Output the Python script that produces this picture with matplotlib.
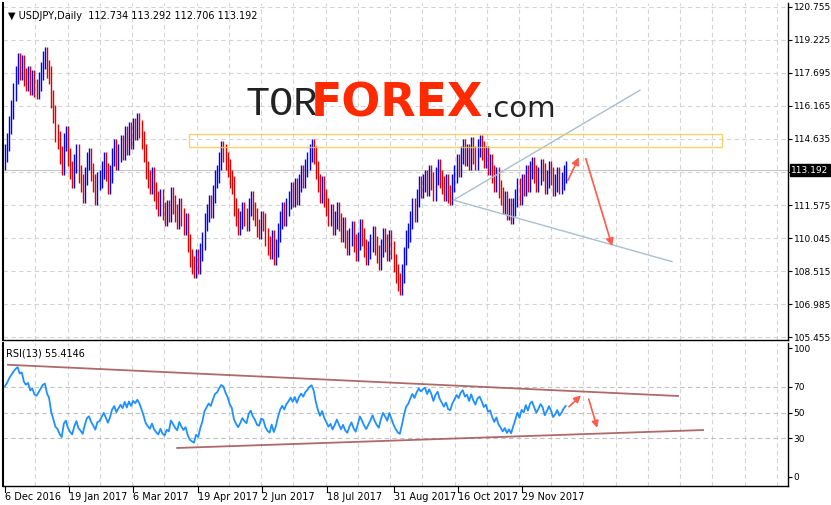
import numpy as np
import matplotlib
matplotlib.use("Agg")
import matplotlib.pyplot as plt

closes = [114.0,114.5,115.3,116.0,116.8,117.6,118.2,
117.8,118.1,117.5,117.3,117.6,117.1,117.4,117.0,116.9,117.3,117.8,118.3,118.5,117.9,117.6,
116.5,115.8,114.9,114.6,113.9,113.4,
114.5,114.8,113.8,113.2,112.8,113.5,114.0,113.0,112.6,112.1,112.9,113.6,113.8,113.1,112.6,112.0,112.7,112.8,
113.2,113.6,113.1,112.5,113.0,113.8,114.2,113.6,114.0,114.4,114.1,114.8,114.3,115.0,114.6,115.2,115.0,115.4,115.1,
114.6,114.0,113.2,112.8,112.5,112.9,112.2,111.8,111.5,111.9,111.3,111.0,
111.4,111.2,112.0,111.6,111.2,110.9,111.5,111.0,110.6,110.8,
109.8,109.1,108.8,
108.6,109.1,108.8,109.4,109.9,110.8,111.2,111.6,111.4,112.1,112.8,113.0,113.6,114.1,114.0,
113.6,113.3,112.8,112.5,111.5,111.0,110.6,110.9,
111.3,111.0,110.8,111.5,111.8,111.3,111.0,110.5,110.4,110.9,110.8,110.1,
109.7,109.5,110.0,109.2,109.6,110.3,
110.9,111.3,111.0,111.5,111.8,112.2,111.9,112.4,112.0,112.6,113.0,112.8,113.3,113.6,114.0,114.2,113.9,
113.2,112.6,112.1,112.5,111.9,111.5,111.0,111.2,110.6,110.9,111.3,110.8,110.3,110.6,110.0,109.7,110.1,110.4,109.8,109.4,109.9,110.5,110.1,
109.6,109.2,109.5,109.8,110.2,109.7,109.3,109.0,109.6,110.1,109.8,109.4,110.0,109.5,108.9,108.4,108.0,107.8,
108.4,109.2,110.0,110.3,110.9,111.5,111.2,111.9,112.5,112.3,
112.6,112.8,112.4,113.0,112.7,112.2,112.9,113.3,112.8,112.5,112.2,112.6,112.1,112.0,
112.6,113.0,113.5,113.3,113.9,114.2,113.8,114.0,113.6,114.3,113.9,113.6,114.2,114.4,114.1,113.7,
113.9,113.4,113.5,113.0,112.6,112.9,112.3,112.0,111.6,111.8,111.3,111.5,111.1,
111.5,111.9,112.4,112.0,112.6,112.4,113.0,112.6,113.2,113.4,
113.0,112.6,112.9,113.3,113.1,112.5,112.8,113.2,112.9,112.4,112.6,112.9,112.5,112.7,113.0,113.192]
first_open = 113.6
wick = 0.42
rsi_init_gain = 0.30
rsi_init_loss = 0.14

price_ticks = [120.755,119.225,117.695,116.165,114.635,113.105,111.575,110.045,108.515,106.985,105.455]
price_labels = ["120.755","119.225","117.695","116.165","114.635","","111.575","110.045","108.515","106.985","105.455"]
rsi_ticks = [100,70,50,30,0]
date_pos = [0,30.5,61,92,122.5,153.5,185,215.5,246]
date_labels = ["6 Dec 2016","19 Jan 2017","6 Mar 2017","19 Apr 2017","2 Jun 2017","18 Jul 2017","31 Aug 2017","16 Oct 2017","29 Nov 2017"]

zone = (87.6, 341.4, 114.26, 114.87)
tri_up = ([213.6, 302.4], [111.8, 116.9])
tri_dn = ([213.6, 317.6], [111.8, 108.95])
arr1 = ([267.5, 273.8], [112.6, 113.9])
arr2 = ([276.2, 289.5], [113.85, 109.55])
rsi_up = ([1.4, 320.5], [87.0, 62.8])
rsi_dn = ([82.0, 332.4], [22.5, 36.4])
rsi_arr1 = ([267.6, 275.2], [53.0, 64.7])
rsi_arr2 = ([277.6, 282.4], [62.4, 36.0])

c = np.array(closes)
o = np.concatenate([[first_open], c[:-1]])
hi = np.maximum(o, c) + wick
lo = np.minimum(o, c) - wick
idx = np.arange(len(c))
cols = np.where(c >= o, "#0000ff", "#e00000")

d = np.diff(np.concatenate([[first_open], c]))
g = np.where(d > 0, d, 0); l = np.where(d < 0, -d, 0)
n = 13
ag = np.zeros(len(d)); al = np.zeros(len(d))
pg, pl = rsi_init_gain, rsi_init_loss
for k in range(len(d)):
    pg = (pg*(n-1) + g[k]) / n
    pl = (pl*(n-1) + l[k]) / n
    ag[k], al[k] = pg, pl
rsi = 100 - 100/(1 + ag/np.maximum(al, 1e-9))

W, H = 831, 505
fig = plt.figure(figsize=(W/100, H/100), dpi=100)
def ax_px(x0, y0, x1, y1):
    return fig.add_axes([x0/W, 1-y1/H, (x1-x0)/W, (y1-y0)/H])

xl = ((3-5)/2.1, (788-5)/2.1)
ax = ax_px(3, 3, 788, 340)
ax.set_xlim(*xl)
ax.set_ylim(105.455-3/21.57, 120.755+4/21.57)
ax2 = ax_px(3, 343, 788, 486)
ax2.set_xlim(*xl)
ax2.set_ylim(-9*100/129, 100+5*100/129)

grid_x = np.arange(14.5, 372, 15.35)
for a in (ax, ax2):
    for x in grid_x:
        a.axvline(x, color="#d4d4d4", ls=(0, (4, 3)), lw=0.8, zorder=0)
    a.tick_params(axis="x", length=0, labelbottom=False)
    a.yaxis.tick_right()
    a.tick_params(axis="y", length=3, labelsize=6.5, pad=1, colors="black")
    a.spines["top"].set_visible(False)
    a.spines["left"].set_linewidth(1.5)
    a.spines["right"].set_linewidth(1)
    a.spines["bottom"].set_linewidth(1)

for p in price_ticks:
    ax.axhline(p, color="#d4d4d4", ls=(0, (4, 3)), lw=0.8, zorder=0)
ax.set_yticks(price_ticks)
ax.set_yticklabels(price_labels)

ax.vlines(idx, lo, hi, colors=cols, lw=1.0, zorder=2)
ax.axhline(c[-1], color="#c8c8c8", lw=0.8, zorder=1)
yl = ax.get_ylim()
ax.text(1.004, (c[-1]-yl[0])/(yl[1]-yl[0]), "%.3f" % c[-1],
        transform=ax.transAxes, color="white", fontsize=6.5, va="center", ha="left",
        bbox=dict(boxstyle="square,pad=0.15", fc="black", ec="black"))

ax.add_patch(plt.Rectangle((zone[0], zone[2]), zone[1]-zone[0], zone[3]-zone[2],
             fill=False, ec="#f5c842", lw=1.0, alpha=0.8, zorder=3))
ax.plot(*tri_up, color="#a9bfd0", lw=1)
ax.plot(*tri_dn, color="#a9bfd0", lw=1)
for (xs, ys) in (arr1, arr2):
    ax.annotate("", xy=(xs[1], ys[1]), xytext=(xs[0], ys[0]),
                arrowprops=dict(arrowstyle="-|>", color="#ff5a4a", lw=1.2, mutation_scale=11))

ax.text(0.006, 0.975, "\u25bc USDJPY,Daily  112.734 113.292 112.706 113.192", transform=ax.transAxes,
        fontsize=7, va="top", ha="left")
ax.text(0.309, 0.70, "TOR", transform=ax.transAxes, fontsize=29, color="#222222", family="Liberation Mono",
        va="center", ha="left")
ax.text(0.392, 0.70, "FOREX", transform=ax.transAxes, fontsize=33, fontweight="bold", color="#ff2a00",
        va="center", ha="left")
ax.text(0.614, 0.685, ".com", transform=ax.transAxes, fontsize=21, color="#222222", va="center", ha="left")

for v in (70, 50, 30):
    ax2.axhline(v, color="#c0c0c0", ls=(0, (4, 3)), lw=0.8, zorder=0)
ax2.set_yticks(rsi_ticks)
ax2.set_yticklabels([str(t) for t in rsi_ticks])
ax2.plot(idx, rsi, color="#1e90ff", lw=1.3, zorder=2)
ax2.plot(*rsi_up, color="#a05050", lw=1.3, alpha=0.85)
ax2.plot(*rsi_dn, color="#a05050", lw=1.3, alpha=0.85)
for (xs, ys) in (rsi_arr1, rsi_arr2):
    ax2.annotate("", xy=(xs[1], ys[1]), xytext=(xs[0], ys[0]),
                 arrowprops=dict(arrowstyle="-|>", color="#ff5a4a", lw=1.2, mutation_scale=10))
ax2.text(0.004, 0.96, "RSI(13) %.4f" % 55.4146, transform=ax2.transAxes, fontsize=7, va="top", ha="left")

ax2.set_xticks(date_pos)
for p, t in zip(date_pos, date_labels):
    ax2.text(p, -0.04, t, transform=ax2.get_xaxis_transform(), fontsize=7, va="top", ha="left")
    ax2.plot([p, p], [-0.04, 0], transform=ax2.get_xaxis_transform(), color="black", lw=0.8, clip_on=False)

fig.savefig("out.png", dpi=100, facecolor="white")
